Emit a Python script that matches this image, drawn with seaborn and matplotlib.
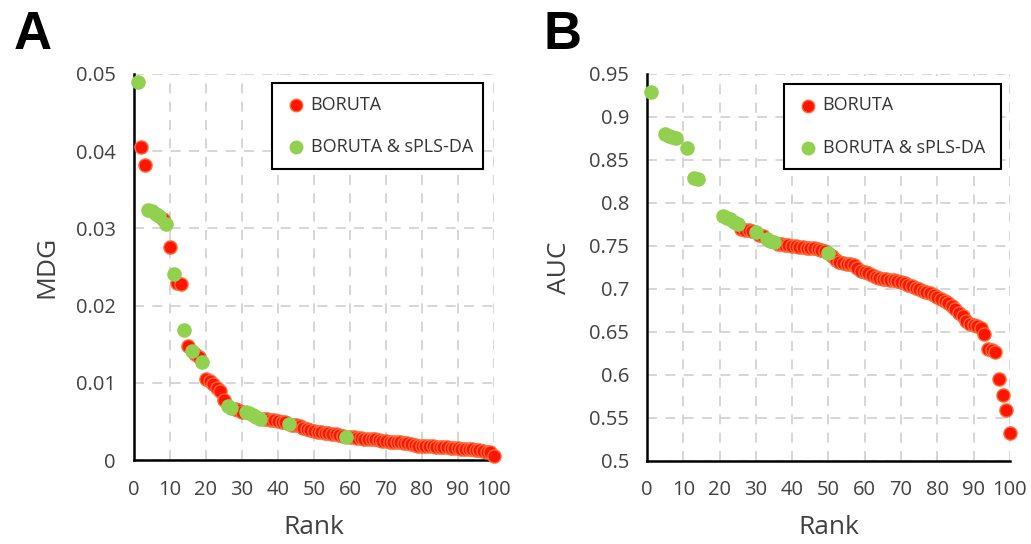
import matplotlib
matplotlib.use('Agg')
import matplotlib.pyplot as plt
import matplotlib.ticker as mticker
import seaborn as sns
import pandas as pd

# Panel A: MDG by rank
mdg_rank = list(range(1, 101))
mdg = [0.0490, 0.0405, 0.0382, 0.0324, 0.0322, 0.0319, 0.0316, 0.0312, 0.0306, 0.0276,
       0.0241, 0.0230, 0.0228, 0.0168, 0.0148, 0.0142, 0.0137, 0.0133, 0.0127, 0.0105,
       0.0102, 0.0099, 0.0093, 0.0089, 0.0078, 0.0070, 0.0068, 0.0066, 0.0065, 0.0063,
       0.0062, 0.0061, 0.0059, 0.0056, 0.0054, 0.0054, 0.0053, 0.0052, 0.0052, 0.0051,
       0.0050, 0.0049, 0.0047, 0.0046, 0.0045, 0.0044, 0.0042, 0.0040, 0.0039, 0.0038,
       0.0037, 0.0036, 0.0035, 0.0035, 0.0034, 0.0034, 0.0033, 0.0032, 0.0030, 0.0030,
       0.0030, 0.0029, 0.0029, 0.0028, 0.0028, 0.0027, 0.0027, 0.0026, 0.0025, 0.0025,
       0.0024, 0.0024, 0.0023, 0.0023, 0.0022, 0.0022, 0.0021, 0.0020, 0.0019, 0.0019,
       0.0018, 0.0018, 0.0018, 0.0017, 0.0017, 0.0017, 0.0017, 0.0016, 0.0016, 0.0016,
       0.0015, 0.0015, 0.0014, 0.0014, 0.0013, 0.0013, 0.0012, 0.0011, 0.0010, 0.0005]
mdg_green = [1, 4, 5, 6, 7, 9, 11, 14, 16, 19, 26, 27, 31, 32, 33, 34, 35, 43, 59]

# Panel B: AUC by rank
auc_rank = [1, 5, 6, 7, 8, 11, 13, 14, 21, 22, 23, 24, 25] + list(range(26, 101))
auc = [0.929, 0.880, 0.878, 0.877, 0.875, 0.864, 0.829, 0.828, 0.785, 0.783, 0.781, 0.778, 0.775,
       0.770, 0.769, 0.768, 0.767, 0.766, 0.763, 0.761, 0.758, 0.756, 0.754,
       0.752, 0.752, 0.751, 0.751, 0.750, 0.750, 0.749, 0.749, 0.748, 0.748,
       0.747, 0.746, 0.745, 0.744, 0.742, 0.738, 0.733, 0.731, 0.730, 0.729,
       0.729, 0.728, 0.724, 0.721, 0.720, 0.718, 0.716, 0.714, 0.713, 0.712,
       0.711, 0.710, 0.710, 0.709, 0.708, 0.707, 0.705, 0.703, 0.701, 0.700,
       0.698, 0.696, 0.695, 0.693, 0.690, 0.688, 0.686, 0.684, 0.680, 0.676,
       0.672, 0.668, 0.663, 0.659, 0.658, 0.657, 0.654, 0.647, 0.630, 0.629,
       0.626, 0.595, 0.577, 0.559, 0.532]
auc_green = [1, 5, 6, 7, 8, 11, 13, 14, 21, 22, 23, 24, 25, 30, 33, 34, 35, 50]

groups = ['BORUTA', 'BORUTA & sPLS-DA']

sns.set_style('white')
plt.rcParams['font.family'] = ['Open Sans', 'DejaVu Sans']

red = '#FF1400'
red_edge = '#FF6A3A'
green = '#92D050'
txt = '#404040'


def make_df(rank, vals, green_ranks):
    g = [groups[1] if r in green_ranks else groups[0] for r in rank]
    return pd.DataFrame({'Rank': rank, 'value': vals, 'group': g})


def panel(ax, df, ylabel, ylim, yticks, leg_box):
    red_df = df[df['group'] == groups[0]]
    green_df = df[df['group'] == groups[1]]
    sns.scatterplot(data=red_df, x='Rank', y='value', color=red, edgecolor=red_edge,
                    linewidth=1, s=90, label=groups[0], ax=ax, zorder=3, clip_on=False)
    sns.scatterplot(data=green_df, x='Rank', y='value', color=green, edgecolor=green,
                    linewidth=1, s=90, label=groups[1], ax=ax, zorder=4, clip_on=False)
    ax.set_xlim(0, 100)
    ax.set_ylim(*ylim)
    ax.set_xticks(range(0, 101, 10))
    ax.set_yticks(yticks)
    ax.yaxis.set_major_formatter(mticker.FuncFormatter(lambda v, p: f'{v:g}'))
    ax.grid(True, linestyle=(0, (6, 5)), color='#cfcfcf', linewidth=1.2)
    sns.despine(ax=ax)
    for s in ['left', 'bottom']:
        ax.spines[s].set_linewidth(1.8)
        ax.spines[s].set_color('black')
    ax.tick_params(direction='out', length=5, width=1.6, color='black',
                   labelsize=14.5, labelcolor=txt)
    ax.tick_params(axis='x', pad=9)
    ax.tick_params(axis='y', pad=8)
    ax.set_xlabel('Rank', fontsize=19, color=txt, labelpad=11)
    ax.set_ylabel(ylabel, fontsize=19, color=txt, labelpad=12)
    leg = ax.legend(loc='upper left', bbox_to_anchor=leg_box, mode='expand',
                    borderaxespad=0, fontsize=13, frameon=True, fancybox=False,
                    framealpha=1, edgecolor='black', labelspacing=1.35,
                    handlelength=1.3, handletextpad=0.15, borderpad=0.7,
                    markerscale=0.95, labelcolor='#333333')
    leg.get_frame().set_linewidth(1.5)


fig = plt.figure(figsize=(10.31, 5.44), dpi=100)
axA = fig.add_axes([0.130, 0.154, 0.349, 0.710])
axB = fig.add_axes([0.6275, 0.153, 0.352, 0.711])

panel(axA, make_df(mdg_rank, mdg, mdg_green), 'MDG', (0, 0.05),
      [0, 0.01, 0.02, 0.03, 0.04, 0.05], (0.383, 0.777, 0.586, 0.2))
panel(axB, make_df(auc_rank, auc, auc_green), 'AUC', (0.5, 0.95),
      [0.5, 0.55, 0.6, 0.65, 0.7, 0.75, 0.8, 0.85, 0.9, 0.95], (0.377, 0.76, 0.598, 0.215))

fig.text(0.013, 0.982, 'A', fontsize=38, fontweight='bold', va='top', ha='left',
         color='black', family=['Liberation Sans', 'DejaVu Sans'])
fig.text(0.527, 0.982, 'B', fontsize=38, fontweight='bold', va='top', ha='left',
         color='black', family=['Liberation Sans', 'DejaVu Sans'])

fig.savefig('out.png', dpi=100)
